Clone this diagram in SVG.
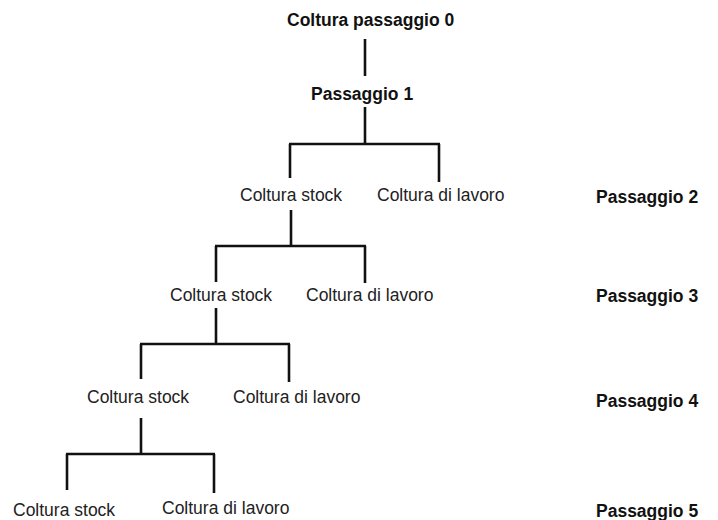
<svg xmlns="http://www.w3.org/2000/svg" width="718" height="520" viewBox="0 0 718 520">
<style>
.t{font-family:"Liberation Sans",Arial,sans-serif;font-size:17.5px;fill:#222}
.b{font-weight:bold;fill:#111}
.c line{stroke:#111;stroke-width:2.6;stroke-linecap:butt}
</style>
<rect width="718" height="520" fill="#fff"/>
<g id="connectors" class="c">
<line x1="365" y1="39" x2="365" y2="76"/>
<line x1="365" y1="107" x2="365" y2="144"/>
<line x1="289" y1="144" x2="440" y2="144"/>
<line x1="290" y1="144" x2="290" y2="178"/>
<line x1="439" y1="144" x2="439" y2="182"/>
<line x1="291" y1="210" x2="291" y2="246"/>
<line x1="215" y1="246" x2="366" y2="246"/>
<line x1="216" y1="246" x2="216" y2="282"/>
<line x1="365" y1="246" x2="365" y2="283"/>
<line x1="216" y1="308" x2="216" y2="344"/>
<line x1="140" y1="344" x2="290" y2="344"/>
<line x1="141" y1="344" x2="141" y2="379"/>
<line x1="289" y1="344" x2="289" y2="382"/>
<line x1="141" y1="418" x2="141" y2="454"/>
<line x1="66" y1="454" x2="215" y2="454"/>
<line x1="67" y1="454" x2="67" y2="490"/>
<line x1="214" y1="454" x2="214" y2="493"/>
</g>
<g id="root"><text class="t b" x="287" y="26">Coltura passaggio 0</text></g>
<g id="p1"><text class="t b" x="311" y="100">Passaggio 1</text></g>
<g id="s2"><text class="t" x="240" y="201">Coltura stock</text></g>
<g id="w2"><text class="t" x="377" y="201">Coltura di lavoro</text></g>
<g id="s3"><text class="t" x="170" y="301">Coltura stock</text></g>
<g id="w3"><text class="t" x="306" y="301">Coltura di lavoro</text></g>
<g id="s4"><text class="t" x="87" y="403">Coltura stock</text></g>
<g id="w4"><text class="t" x="233" y="403">Coltura di lavoro</text></g>
<g id="s5"><text class="t" x="13" y="516">Coltura stock</text></g>
<g id="w5"><text class="t" x="162" y="514">Coltura di lavoro</text></g>
<g id="lab2"><text class="t b" x="596" y="203">Passaggio 2</text></g>
<g id="lab3"><text class="t b" x="596" y="302">Passaggio 3</text></g>
<g id="lab4"><text class="t b" x="596" y="407">Passaggio 4</text></g>
<g id="lab5"><text class="t b" x="596" y="517">Passaggio 5</text></g>
</svg>
